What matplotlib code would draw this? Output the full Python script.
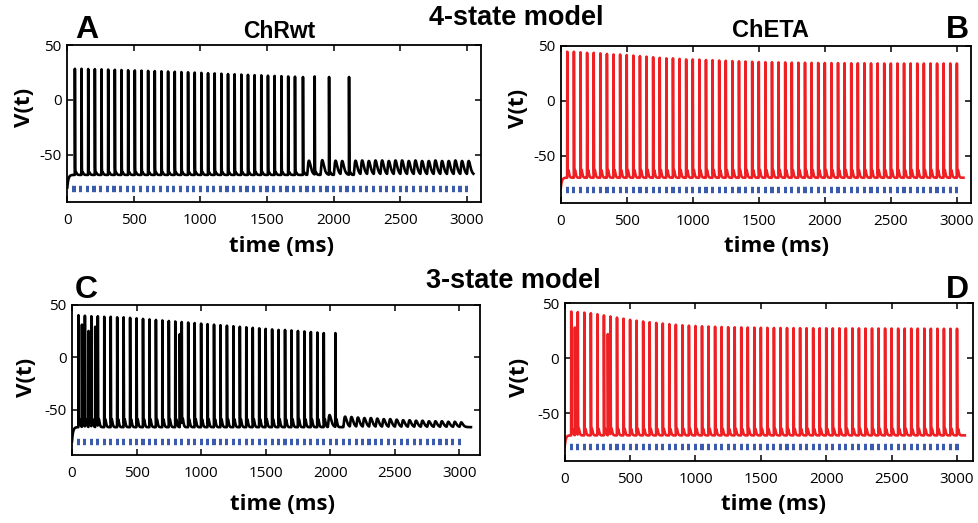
import numpy as np
import matplotlib
matplotlib.use("Agg")
import matplotlib.pyplot as plt

plt.rcParams['axes.unicode_minus'] = False

W, H = 979, 523

# ---------------- data ----------------
pulse_t = [50, 100, 150, 200, 250, 300, 350, 400, 450, 500, 550, 600, 650, 700, 750,
           800, 850, 900, 950, 1000, 1050, 1100, 1150, 1200, 1250, 1300, 1350, 1400,
           1450, 1500, 1550, 1600, 1650, 1700, 1750, 1800, 1850, 1900, 1950, 2000,
           2050, 2100, 2150, 2200, 2250, 2300, 2350, 2400, 2450, 2500, 2550, 2600,
           2650, 2700, 2750, 2800, 2850, 2900, 2950, 3000]
pulse_level = -81
v_start = -80

# Panel A : 4-state ChRwt
A_spike_t = [57, 107, 157, 207, 257, 307, 357, 407, 457, 507, 557, 607, 657, 707, 757,
             807, 857, 907, 957, 1007, 1057, 1107, 1157, 1207, 1257, 1307, 1357, 1407,
             1457, 1507, 1557, 1608, 1659, 1710, 1770, 1858, 1966, 2116]
A_spike_v = [28.5, 28.5, 28.3, 28.2, 28.0, 27.8, 27.6, 27.4, 27.2, 27.0,
             26.8, 26.6, 26.4, 26.2, 26.0, 25.8, 25.5, 25.3, 25.0, 24.8,
             24.5, 24.3, 24.0, 23.7, 23.5, 23.2, 23.0, 22.7, 22.5, 22.2,
             22.0, 21.8, 21.5, 21.3, 21.0, 21.5, 21.0, 21.0]
A_sub_t = [1815, 1915, 2015, 2065, 2165, 2215, 2265, 2315, 2365, 2415, 2465, 2515,
           2565, 2615, 2665, 2715, 2765, 2815, 2865, 2915, 2965, 3015]
A_sub_v = [-55.5, -55, -55.5, -56, -55.5, -55.5, -56, -55.5, -55.5, -56, -55.5,
           -55.5, -56, -55.5, -56, -56, -55.5, -56, -56, -55.5, -56, -56]
A_base, A_adp = -68.5, -66

# Panel B : 4-state ChETA (one spike per pulse)
B_spike_t = list(pulse_t)
B_spike_v = [44.5, 44.5, 44, 43.5, 43.5, 43, 42.5, 42, 42, 41.5,
             41, 40.5, 40, 39.5, 39, 38.5, 38.5, 38, 37.5, 37.5,
             37.3, 37, 36.8, 36.5, 36.3, 36, 35.8, 35.6, 35.4, 35.2,
             35, 35, 34.8, 34.8, 34.6, 34.5, 34.5, 34.4, 34.3, 34.3,
             34.2, 34.2, 34.1, 34, 34, 34, 33.9, 33.9, 33.8, 33.8,
             33.8, 33.8, 33.8, 33.8, 33.8, 33.8, 33.8, 33.8, 33.8, 33.8]
B_sub_t, B_sub_v = [], []
B_base, B_adp = -70, -63

# Panel C : 3-state ChRwt
C_spike_t = [50, 100, 150, 200, 250, 300, 350, 400, 450, 500, 550, 600, 650, 700,
             750, 800, 850, 900, 950, 1000, 1050, 1100, 1150, 1200, 1250, 1300, 1350,
             1400, 1450, 1500, 1550, 1600, 1650, 1700, 1750, 1800, 1850, 1900, 1950,
             2040, 77, 128, 180, 835]
C_spike_v = [40, 39.5, 39, 39, 38.5, 38.5, 38, 38, 37.5, 37,
             36.5, 36, 35.5, 35, 34.5, 34, 33.5, 33, 32.5, 32,
             31.5, 31, 30.5, 30, 29.5, 29, 28.5, 28, 27.5, 27,
             26.5, 26, 26, 25.5, 25, 24.5, 24, 23.5, 23,
             23, 31, 25, 29, 22]
C_sub_t = [1995, 2115, 2165, 2215, 2265, 2315, 2365, 2415, 2465, 2515, 2565, 2615,
           2665, 2715, 2765, 2815, 2865, 2915, 2965, 3015]
C_sub_v = [-55, -56.5, -57, -57.5, -58, -58, -58.5, -59, -59, -59.5, -60, -60,
           -60.5, -60.5, -61, -61, -61, -61.5, -61.5, -62]
C_base, C_adp = -66.5, -59

# Panel D : 3-state ChETA
D_spike_t = list(pulse_t) + [78, 330]
D_spike_v = [42.5, 42, 41.5, 41, 40, 39, 38, 37, 36, 35,
             34.2, 33.5, 32.8, 32.2, 31.6, 31, 30.5, 30, 29.7, 29.4,
             29.1, 28.9, 28.7, 28.5, 28.3, 28.2, 28.1, 28, 27.9, 27.8,
             27.7, 27.6, 27.6, 27.5, 27.5, 27.4, 27.4, 27.3, 27.3, 27.3,
             27.2, 27.2, 27.2, 27.2, 27.2, 27.1, 27.1, 27.1, 27.1, 27.1,
             27.0, 27.0, 27.0, 27.0, 27.0, 26.9, 26.9, 26.9, 26.9, 26.9,
             28, 22]
D_sub_t, D_sub_v = [], []
D_base, D_adp = -70, -64

# ---------------- helpers ----------------
def kern(dt, tp, p):
    x = np.clip(dt, 0, None) / tp
    return np.where(dt > 0, x ** p * np.exp(p * (1 - x)), 0.0)


def build_trace(t, base, adp, spike_t, spike_v, sub_t, sub_v):
    v = base + (v_start - base) * np.exp(-t / 8.0)
    for ts in spike_t:
        v = v + (adp - base) * kern(t - ts - 2.0, 6.0, 2)
    for ts, vp in zip(sub_t, sub_v):
        v = v + (vp - base) * kern(t - ts + 14.0, 14.0, 2)
    bg = v.copy()
    for ts, vp in zip(spike_t, spike_v):
        vb = np.interp(ts, t, bg)
        v = v + (vp - vb) * kern(t - ts + 1.0, 1.0, 2)
    return v


fig = plt.figure(figsize=(W / 100, H / 100), dpi=100)

# pixel rectangles (left, top, right, bottom)
panels = [
    dict(rect=(67.3, 45.3, 481, 201.7), xmax=3107, color='black', t_end=3050,
         data=(A_base, A_adp, A_spike_t, A_spike_v, A_sub_t, A_sub_v),
         xl=(282, 252), yl=(25, 107)),
    dict(rect=(560.7, 45.7, 971, 203), xmax=3107, color='#EE2024', t_end=3050,
         data=(B_base, B_adp, B_spike_t, B_spike_v, B_sub_t, B_sub_v),
         xl=(777, 252), yl=(519, 108)),
    dict(rect=(72, 304.7, 480, 455), xmax=3160, color='black', t_end=3090,
         data=(C_base, C_adp, C_spike_t, C_spike_v, C_sub_t, C_sub_v),
         xl=(283, 510), yl=(26, 377)),
    dict(rect=(564.7, 303.3, 972.7, 460.7), xmax=3120, color='#EE2024', t_end=3060,
         data=(D_base, D_adp, D_spike_t, D_spike_v, D_sub_t, D_sub_v),
         xl=(774, 510), yl=(520, 377)),
]

tick_font = dict(family='Open Sans', size=11)
lab_font = dict(family='Open Sans', weight='bold', size=16)

for p in panels:
    l, tp_, r, b = p['rect']
    ax = fig.add_axes([l / W, 1 - b / H, (r - l) / W, (b - tp_) / H])
    t = np.arange(0, p['t_end'], 0.2)
    v = build_trace(t, *p['data'])
    ax.plot(t, v, color=p['color'], lw=1.9, solid_joinstyle='round')
    pt = np.array(pulse_t, dtype=float)
    ax.hlines([pulse_level] * len(pt), pt - 12, pt + 12, colors='#3B5BAE', lw=4.6)
    ax.set_xlim(0, p['xmax'])
    ax.set_ylim(-93, 50)
    ax.set_xticks([0, 500, 1000, 1500, 2000, 2500, 3000])
    ax.set_yticks([-50, 0, 50])
    ax.tick_params(direction='in', top=True, right=True, length=4, width=1.1)
    ax.tick_params(axis='x', pad=8)
    ax.tick_params(axis='y', pad=4)
    for lab in ax.get_xticklabels() + ax.get_yticklabels():
        lab.set_fontfamily(tick_font['family'])
        lab.set_fontsize(tick_font['size'])
    for s in ax.spines.values():
        s.set_linewidth(1.3)
    ax.set_xlabel('time (ms)', va='baseline', **lab_font)
    ax.xaxis.set_label_coords((p['xl'][0] - l) / (r - l), (b - p['xl'][1]) / (b - tp_))
    ax.set_ylabel('V(t)', va='center', **lab_font)
    ax.yaxis.set_label_coords((p['yl'][0] - l) / (r - l), (b - p['yl'][1]) / (b - tp_))

hdr = dict(family='Liberation Sans', weight='bold')


def ftext(x, y, s, size, ha='center'):
    fig.text(x / W, 1 - y / H, s, fontsize=size, ha=ha, va='baseline', **hdr)


ftext(516, 25, '4-state model', 19.5)
ftext(513, 288, '3-state model', 19.5)
ftext(279, 38, 'ChRwt', 16.5)
ftext(770, 37, 'ChETA', 17)
ftext(87, 38, 'A', 23)
ftext(957, 38, 'B', 23)
ftext(86, 298, 'C', 23)
ftext(957, 298, 'D', 23)

fig.savefig('out.png', dpi=100)
